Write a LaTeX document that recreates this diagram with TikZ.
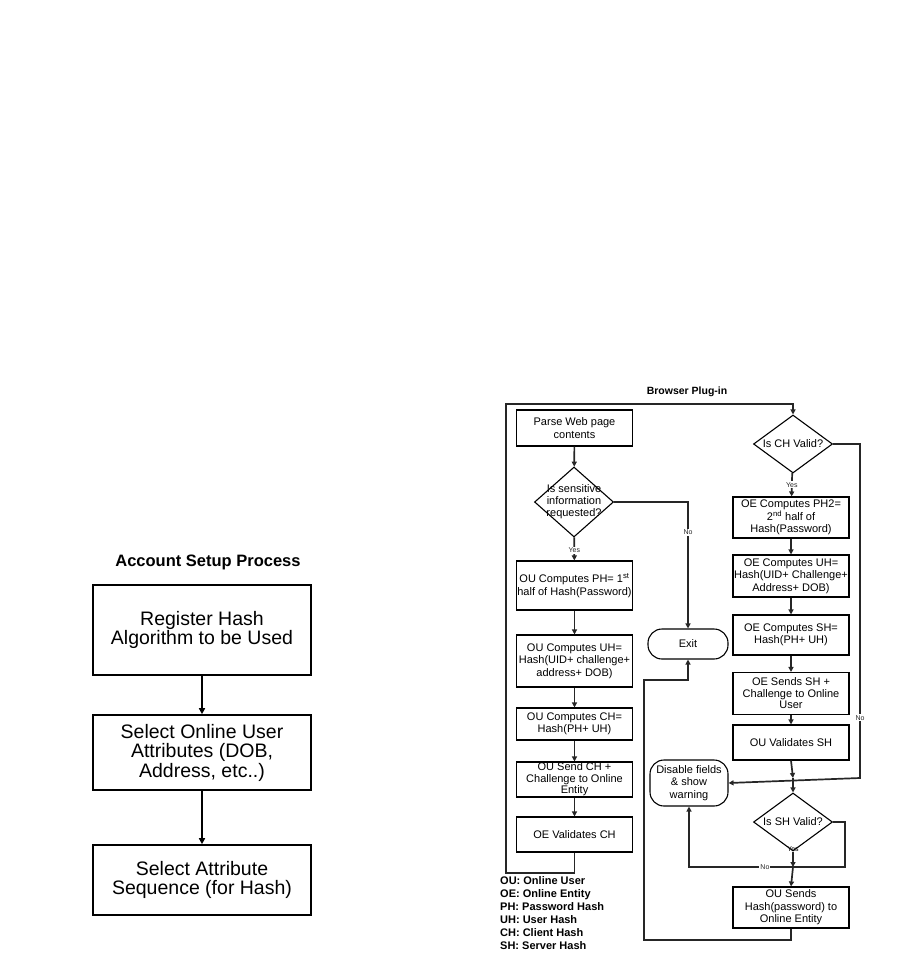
\documentclass[tikz,border=0pt]{standalone}
\usepackage{fontspec}
\setmainfont{Liberation Sans}
\usetikzlibrary{arrows.meta,shapes.geometric}
\begin{document}
\begin{tikzpicture}[x=1pt,y=-1pt,
  bigbox/.style={draw, line width=1.6pt, minimum width=218pt, align=center,
    font=\fontsize{19.5}{19.5}\selectfont, inner sep=0pt},
  box/.style={draw, line width=1.1pt, minimum width=116pt, align=center,
    font=\fontsize{11}{12.5}\selectfont, inner sep=0pt},
  term/.style={draw, line width=1.1pt, rounded corners=14pt, align=center,
    font=\fontsize{11}{12.5}\selectfont, inner sep=0pt},
  dia/.style={diamond, draw, line width=1.1pt, inner sep=0pt, minimum width=79pt, minimum height=58pt},
  dtext/.style={align=center, font=\fontsize{11}{12}\selectfont, inner sep=0pt},
  lbl/.style={font=\fontsize{7}{8}\selectfont, inner sep=1pt, fill=white},
  bigflow/.style={draw, line width=1.8pt, -{Triangle[length=6pt,width=6pt]}},
  flow/.style={draw, line width=1.7pt, black!85, -{Triangle[length=5pt,width=5pt]}},
  line/.style={draw, line width=1.7pt, black!85},
  ttl/.style={font=\bfseries\fontsize{16.5}{18}\selectfont},
  sttl/.style={font=\bfseries\fontsize{10.5}{12}\selectfont}
]
\useasboundingbox (0,0) rectangle (901,958);

% ---------- Account setup ----------
\node[ttl, anchor=base] (t1) at (208,566) {Account Setup Process};
\node[bigbox, minimum height=90pt] (a1) at (202,630) {Register Hash\\Algorithm to be Used};
\node[bigbox, minimum height=75pt] (a2) at (202,752.5) {Select Online User\\Attributes (DOB,\\Address, etc..)};
\node[bigbox, minimum height=70pt] (a3) at (202,880) {Select Attribute\\Sequence (for Hash)};
\path[bigflow] (a1) -- (a2);
\path[bigflow] (a2) -- (a3);

% ---------- Browser plug-in ----------
\node[sttl] (t2) at (687,392) {Browser Plug-in};

% left column
\node[box, minimum height=36pt] (parse) at (574.5,428) {Parse Web page\\contents};
\node[dia, minimum height=70pt] (d1) at (574,502) {};
\node[dtext] (d1t) at (d1) {Is sensitive\\information\\requested?};
\node[box, minimum height=49pt] (ph1) at (574.5,585.5) {OU Computes PH= 1\textsuperscript{st}\\half of Hash(Password)};
\node[box, minimum height=52pt] (uh1) at (574.5,661) {OU Computes UH=\\Hash(UID+ challenge+\\address+ DOB)};
\node[box, minimum height=32pt] (ch1) at (574.5,724) {OU Computes CH=\\Hash(PH+ UH)};
\node[box, minimum height=35pt, font=\fontsize{11}{11.5}\selectfont] (snd1) at (574.5,779.5) {OU Send CH +\\Challenge to Online\\Entity};
\node[box, minimum height=35pt] (vch) at (574.5,834.5) {OE Validates CH};

\node[anchor=north west, align=left, inner sep=0pt,
  font=\bfseries\fontsize{11}{13}\selectfont] (leg) at (500,876)
  {OU: Online User\\OE: Online Entity\\PH: Password Hash\\UH: User Hash\\CH: Client Hash\\SH: Server Hash};

% middle terminals
\node[term, minimum width=80pt, minimum height=30pt] (exit) at (688,644) {Exit};
\node[term, minimum width=78pt, minimum height=46pt] (dis) at (689,783) {Disable fields\\\& show\\warning};

% right column
\node[dia] (d2) at (793,444) {};
\node[dtext] (d2t) at (d2) {Is CH Valid?};
\node[box, minimum height=41pt] (ph2) at (791,517.5) {OE Computes PH2=\\2\textsuperscript{nd} half of\\Hash(Password)};
\node[box, minimum height=42pt] (uh2) at (791,576) {OE Computes UH=\\Hash(UID+ Challenge+\\Address+ DOB)};
\node[box, minimum height=40pt] (sh2) at (791,635) {OE Computes SH=\\Hash(PH+ UH)};
\node[box, minimum height=42pt, font=\fontsize{11}{11.5}\selectfont] (snd2) at (791,693.5) {OE Sends SH +\\Challenge to Online\\User};
\node[box, minimum height=35pt] (vsh) at (791,742.5) {OU Validates SH};
\coordinate (j1) at (793,778);
\node[dia] (d3) at (793,822) {};
\node[dtext] (d3t) at (d3) {Is SH Valid?};
\coordinate (j2) at (793,867);
\node[box, minimum height=41pt] (ous) at (791,907.5) {OU Sends\\Hash(password) to\\Online Entity};

% connectors, left column
\path[flow] (parse) -- (d1);
\path[flow] (d1) -- node[lbl, pos=0.55] (y1) {Yes} (ph1);
\path[flow] (ph1) -- (uh1);
\path[flow] (uh1) -- (ch1);
\path[flow] (ch1) -- (snd1);
\path[flow] (snd1) -- (vch);
\path[flow] (d1.east) -| node[lbl, pos=0.62] (n1) {No} (exit.north);
\path[flow] (vch.south) |- (506,873) -- (506,404) -| (d2.north);

% connectors, right column
\path[flow] (d2) -- node[lbl, pos=0.5] (y2) {Yes} (ph2);
\path[flow] (ph2) -- (uh2);
\path[flow] (uh2) -- (sh2);
\path[flow] (sh2) -- (snd2);
\path[flow] (snd2) -- (vsh);
\path[flow] (vsh.south) -- (j1);
\path[flow] (j1) -- (d3.north);
\path[flow] (d2.east) -- (860,444) -- node[lbl, pos=0.82] (n2) {No} (860,778) -- (dis.east);
\path[line] (d3.east) -- (845,822) |- (j2);
\path[flow] (d3.south) -- (j2);
\path[flow] (j2) -- (ous.north);
\path[flow] (j2) -- node[lbl, pos=0.27] (n3) {No} (689,867) -- (dis.south);
\path[flow] (ous.south) |- (644,940) -- (644,680) -| (exit.south);
\node[lbl, fill=none] (y3) at (793,849) {Yes};
\end{tikzpicture}
\end{document}
